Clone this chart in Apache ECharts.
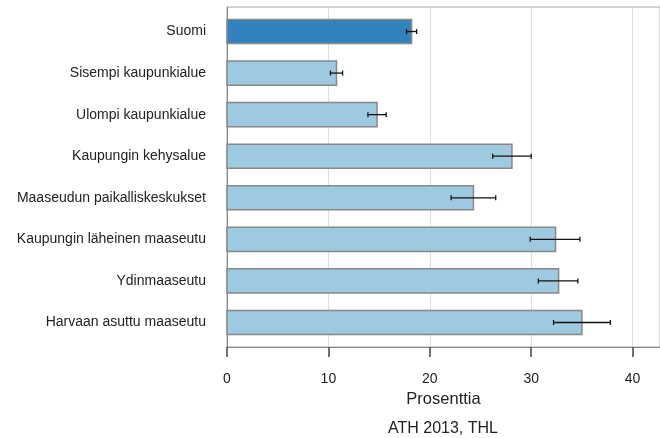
<!DOCTYPE html>
<html>
<head>
<meta charset="utf-8">
<script src="https://cdn.jsdelivr.net/npm/echarts@6/dist/echarts.min.js"></script>
<style>
  html, body { margin: 0; padding: 0; background: #fff; }
  #chart { width: 660px; height: 438px; }
</style>
</head>
<body>
<div id="chart"></div>
<script>
// Area types, share (%) with 95% confidence intervals
const categories = [
  'Suomi',
  'Sisempi kaupunkialue',
  'Ulompi kaupunkialue',
  'Kaupungin kehysalue',
  'Maaseudun paikalliskeskukset',
  'Kaupungin läheinen maaseutu',
  'Ydinmaaseutu',
  'Harvaan asuttu maaseutu'
];
const values = [18.2, 10.8, 14.8, 28.1, 24.3, 32.4, 32.7, 35.0];
const ciLow  = [17.7, 10.2, 13.9, 26.2, 22.1, 29.9, 30.7, 32.2];
const ciHigh = [18.7, 11.4, 15.7, 30.0, 26.5, 34.8, 34.6, 37.8];
const xTicks = [0, 10, 20, 30, 40];

const FONT = '"Liberation Sans", Arial, sans-serif';
const catIndex = categories.map((_, i) => i);

const barData = values.map((v, i) => [v, i]);
const errData = ciLow.map((lo, i) => [lo, i, ciHigh[i]]);

const chart = echarts.init(document.getElementById('chart'), null, { renderer: 'canvas' });

chart.setOption({
  animation: false,
  backgroundColor: '#fff',
  textStyle: { fontFamily: FONT },
  title: {
    text: 'ATH 2013, THL',
    left: 443,
    top: 421,
    textAlign: 'center',
    padding: 0,
    textStyle: { fontFamily: FONT, fontSize: 16, fontWeight: 'normal', color: '#222' }
  },
  grid: {
    left: 227,
    top: 7,
    right: 0,
    height: 340,
    show: true,
    borderColor: '#aaa',
    borderWidth: 1,
    backgroundColor: 'transparent'
  },
  xAxis: {
    type: 'value',
    min: 0,
    max: 42.7,
    interval: 10,
    name: 'Prosenttia',
    nameLocation: 'middle',
    nameGap: 42,
    nameTextStyle: { fontFamily: FONT, fontSize: 16.5, color: '#222' },
    axisLine: { show: true, onZero: false, lineStyle: { color: '#888', width: 1 } },
    axisTick: { show: true, length: 10, customValues: xTicks, lineStyle: { color: '#444', width: 1.5 } },
    axisLabel: { customValues: xTicks, margin: 25, fontFamily: FONT, fontSize: 14, color: '#222' },
    splitLine: { show: true, lineStyle: { color: '#ddd', width: 1 } }
  },
  yAxis: {
    type: 'value',
    inverse: true,
    min: -0.59,
    max: 7.59,
    axisLine: { show: true, onZero: false, lineStyle: { color: '#888', width: 1 } },
    axisTick: { show: false },
    splitLine: { show: false },
    axisLabel: {
      customValues: catIndex,
      margin: 21,
      fontFamily: FONT,
      fontSize: 14,
      color: '#222',
      formatter: v => categories[Math.round(v)] || ''
    }
  },
  series: [
    {
      type: 'custom',
      name: 'bars',
      data: barData,
      encode: { x: 0, y: 1 },
      renderItem: function (params, api) {
        const v = api.value(0);
        const idx = api.value(1);
        const p0 = api.coord([0, idx]);
        const p1 = api.coord([v, idx]);
        const h = api.size([0, 1])[1] * 0.58;
        return {
          type: 'rect',
          shape: { x: p0[0], y: p0[1] - h / 2, width: p1[0] - p0[0], height: h },
          style: {
            fill: idx === 0 ? '#3182bd' : '#9ecae1',
            stroke: '#888',
            lineWidth: 1.5
          }
        };
      },
      z: 2
    },
    {
      type: 'custom',
      name: 'ci',
      data: errData,
      encode: { x: [0, 2], y: 1 },
      renderItem: function (params, api) {
        const idx = api.value(1);
        const a = api.coord([api.value(0), idx]);
        const b = api.coord([api.value(2), idx]);
        const cap = 2.5;
        const st = { stroke: '#111', lineWidth: 1.3 };
        return {
          type: 'group',
          children: [
            { type: 'line', shape: { x1: a[0], y1: a[1], x2: b[0], y2: b[1] }, style: st },
            { type: 'line', shape: { x1: a[0], y1: a[1] - cap, x2: a[0], y2: a[1] + cap }, style: st },
            { type: 'line', shape: { x1: b[0], y1: b[1] - cap, x2: b[0], y2: b[1] + cap }, style: st }
          ]
        };
      },
      z: 3
    }
  ]
});
</script>
</body>
</html>
